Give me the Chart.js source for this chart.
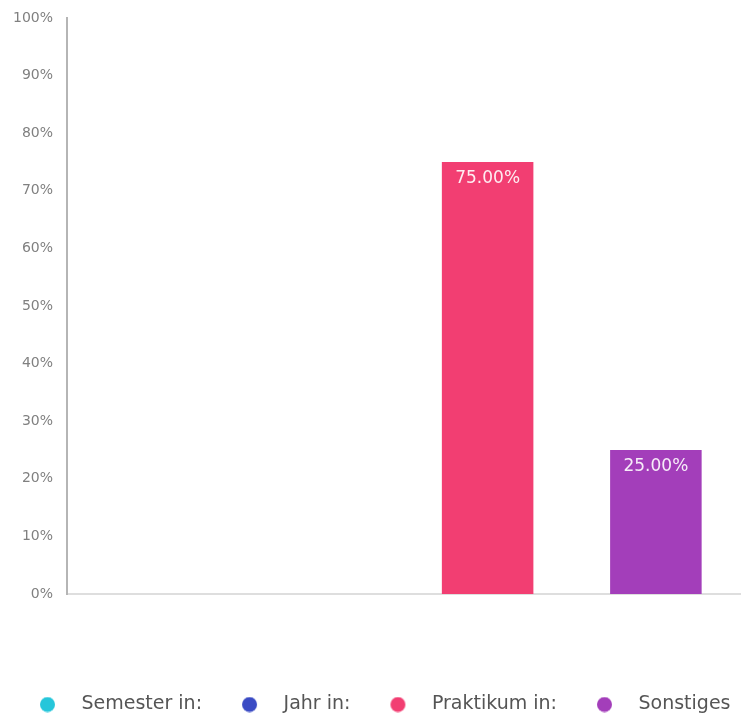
<!DOCTYPE html>
<html>
<head>
<meta charset="utf-8">
<script src="https://cdn.jsdelivr.net/npm/chart.js@4.4.1/dist/chart.umd.min.js"></script>
<style>
  html, body { margin: 0; padding: 0; background: #fff; overflow: hidden; }
  #wrap { width: 742px; height: 718px; position: relative; }
</style>
</head>
<body>
<div id="wrap"><canvas id="myChart"></canvas></div>
<script>
// data
var categories = ['Semester in:', 'Jahr in:', 'Praktikum in:', 'Sonstiges'];
var values = [0, 0, 75, 25];
var colors = ['#26c6da', '#3a4bc4', '#f23e72', '#a33eba'];
var yTicks = [0, 10, 20, 30, 40, 50, 60, 70, 80, 90, 100];

// legend box is 68 wide, the dot sits 34px left of the text
var BOX_W = 68;
function legendDot(color) {
    var c = document.createElement('canvas');
    c.width = 36;
    c.height = 16;
    var g = c.getContext('2d');
    g.fillStyle = color;
    g.beginPath();
    g.arc(18 + BOX_W / 2 + 9.5 - 34, 8, 7.5, 0, Math.PI * 2);
    g.fill();
    return c;
}

// one dataset per category so every bar gets its own legend entry
var datasets = categories.map(function(label, i) {
    return {
        label: label,
        data: categories.map(function(c, j) { return j === i ? values[i] : null; }),
        backgroundColor: colors[i],
        pointStyle: legendDot(colors[i]),
        grouped: false,
        categoryPercentage: 0.8,
        barPercentage: 0.68
    };
});

// white percentage label at the top of each bar
var valueLabels = {
    id: 'valueLabels',
    afterDatasetsDraw: function(chart) {
        var ctx = chart.ctx;
        ctx.save();
        ctx.font = '17px "DejaVu Sans"';
        ctx.fillStyle = 'rgba(255,255,255,0.9)';
        ctx.textAlign = 'center';
        ctx.textBaseline = 'middle';
        chart.data.datasets.forEach(function(ds, i) {
            var meta = chart.getDatasetMeta(i);
            meta.data.forEach(function(bar, j) {
                var v = ds.data[j];
                if (v === null || v === 0) return;
                ctx.fillText(v.toFixed(2) + '%', bar.x, bar.y + 17);
            });
        });
        ctx.restore();
    }
};

var ctx = document.getElementById('myChart').getContext('2d');
var myChart = new Chart(ctx, {
    type: 'bar',
    data: {
        labels: categories,
        datasets: datasets
    },
    options: {
        responsive: true,
        maintainAspectRatio: false,
        animation: false,
        layout: { padding: { top: 18, right: 2, left: 0, bottom: -6 } },
        plugins: {
            tooltip: { enabled: false },
            legend: {
                position: 'bottom',
                align: 'start',
                labels: {
                    usePointStyle: true,
                    pointStyleWidth: BOX_W,
                    padding: 4,
                    color: '#555',
                    font: { family: 'DejaVu Sans', size: 19 }
                }
            }
        },
        scales: {
            x: {
                grid: { display: false },
                border: { display: true, color: '#dedede', width: 2 },
                ticks: { display: false },
                afterFit: function(scale) { scale.height = 97; }
            },
            y: {
                min: 0,
                max: 100,
                afterBuildTicks: function(scale) {
                    scale.ticks = yTicks.map(function(v) { return { value: v }; });
                },
                grid: { display: false },
                border: { display: true, color: '#b5b5b5', width: 2 },
                ticks: {
                    padding: 6,
                    color: '#808080',
                    font: { family: 'DejaVu Sans', size: 14 },
                    callback: function(v) { return v + '%'; }
                },
                afterFit: function(scale) { scale.width = 67; }
            }
        }
    },
    plugins: [valueLabels]
});
</script>
</body>
</html>
